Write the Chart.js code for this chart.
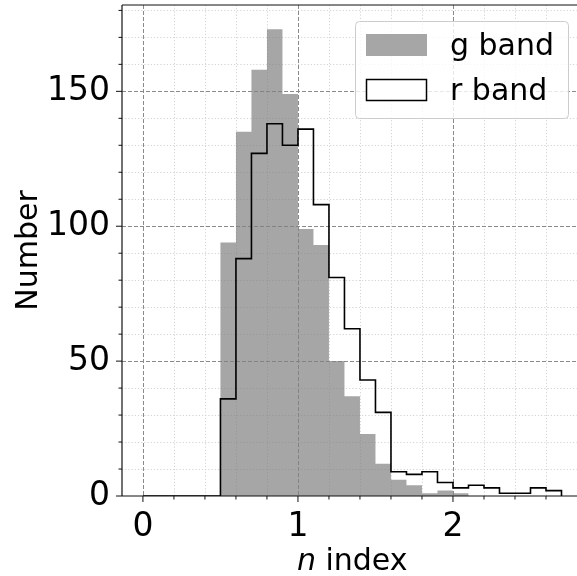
<!DOCTYPE html>
<html>
<head>
<meta charset="utf-8">
<script src="https://cdn.jsdelivr.net/npm/chart.js@4.4.1/dist/chart.umd.min.js"></script>
<style>
  html, body { margin: 0; padding: 0; background: #fff; }
  #wrap { width: 577px; height: 576px; }
</style>
</head>
<body>
<div id="wrap"><canvas id="chart" width="577" height="576"></canvas></div>
<script>
// histogram bins (n index), width 0.1
const binEdges = [0.0, 0.1, 0.2, 0.3, 0.4, 0.5, 0.6, 0.7, 0.8, 0.9, 1.0, 1.1, 1.2, 1.3,
  1.4, 1.5, 1.6, 1.7, 1.8, 1.9, 2.0, 2.1, 2.2, 2.3, 2.4, 2.5, 2.6, 2.7];
const gBand = [0, 0, 0, 0, 0, 94, 135, 158, 173, 149, 99, 93, 50, 37,
  23, 12, 6, 4, 1, 2, 1, 0, 0, 0, 0, 0, 0];
const rBand = [0, 0, 0, 0, 0, 36, 88, 127, 138, 130, 136, 108, 81, 62,
  43, 31, 9, 8, 9, 5, 3, 4, 3, 1, 1, 3, 2];

const xTicks = [0, 1, 2];
const yTicks = [0, 50, 100, 150];
const xMinor = [0.2, 0.4, 0.6, 0.8, 1.2, 1.4, 1.6, 1.8, 2.2, 2.4, 2.6];
const yMinor = [10, 20, 30, 40, 60, 70, 80, 90, 110, 120, 130, 140, 160, 170, 180];

const FONT = "'DejaVu Sans', sans-serif";
const GRAY = 'rgba(128,128,128,0.7)';

// one point per bin start plus a closing point, drawn as steps
function stepPoints(counts) {
  const pts = counts.map((c, i) => ({ x: binEdges[i], y: c }));
  pts.push({ x: binEdges[binEdges.length - 1], y: 0 });
  return pts;
}

function seg(ctx, x1, y1, x2, y2) {
  ctx.beginPath();
  ctx.moveTo(x1, y1);
  ctx.lineTo(x2, y2);
  ctx.stroke();
}

// matplotlib-like grid: dotted minor, dashed major
const gridPlugin = {
  id: 'mplGrid',
  beforeDatasetsDraw(chart) {
    const { ctx, chartArea: a, scales: { x, y } } = chart;
    ctx.save();
    ctx.lineWidth = 1;
    ctx.strokeStyle = '#d4d4d4';
    ctx.setLineDash([1.2, 2]);
    xMinor.forEach(v => {
      const px = Math.round(x.getPixelForValue(v)) + 0.5;
      seg(ctx, px, a.top, px, a.bottom);
    });
    yMinor.forEach(v => {
      const py = Math.round(y.getPixelForValue(v)) + 0.5;
      seg(ctx, a.left, py, a.right, py);
    });
    ctx.strokeStyle = '#8a8a8a';
    ctx.setLineDash([4, 2]);
    xTicks.forEach(v => {
      const px = Math.round(x.getPixelForValue(v)) + 0.5;
      seg(ctx, px, a.top, px, a.bottom);
    });
    yTicks.forEach(v => {
      if (v === 0) return;
      const py = Math.round(y.getPixelForValue(v)) + 0.5;
      seg(ctx, a.left, py, a.right, py);
    });
    ctx.restore();
  },
  afterDraw(chart) {
    const { ctx, chartArea: a, scales: { x, y } } = chart;
    ctx.save();
    // spines
    ctx.strokeStyle = '#111';
    ctx.lineWidth = 1.2;
    seg(ctx, a.left, a.top, a.left, a.bottom);
    seg(ctx, a.left, a.bottom, a.right, a.bottom);
    seg(ctx, a.left, a.top, a.right, a.top);
    // tick marks
    ctx.lineWidth = 1;
    xTicks.forEach(v => { const px = x.getPixelForValue(v); seg(ctx, px, a.bottom, px, a.bottom + 6); });
    xMinor.forEach(v => { const px = x.getPixelForValue(v); seg(ctx, px, a.bottom, px, a.bottom + 3.5); });
    yTicks.forEach(v => { const py = y.getPixelForValue(v); seg(ctx, a.left - 6, py, a.left, py); });
    yMinor.forEach(v => { const py = y.getPixelForValue(v); seg(ctx, a.left - 3.5, py, a.left, py); });

    // axis titles
    ctx.fillStyle = '#000';
    ctx.textBaseline = 'alphabetic';
    ctx.font = '30px ' + FONT;
    const idx = ' index';
    const wIdx = ctx.measureText(idx).width;
    ctx.font = 'italic 30px ' + FONT;
    const wN = ctx.measureText('n').width;
    const cx = (a.left + x.getPixelForValue(2.835)) / 2;
    let tx = cx - (wN + wIdx) / 2;
    ctx.textAlign = 'left';
    ctx.fillText('n', tx, 570);
    ctx.font = '30px ' + FONT;
    ctx.fillText(idx, tx + wN, 570);

    ctx.save();
    ctx.translate(37, (a.top + a.bottom) / 2);
    ctx.rotate(-Math.PI / 2);
    ctx.textAlign = 'center';
    ctx.fillText('Number', 0, 0);
    ctx.restore();

    // legend box
    const lx = 355, ly = 21, lw = 213, lh = 97;
    ctx.fillStyle = 'rgba(255,255,255,0.8)';
    ctx.strokeStyle = '#cccccc';
    ctx.lineWidth = 1;
    ctx.beginPath();
    ctx.roundRect(lx + 0.5, ly + 0.5, lw, lh, 4);
    ctx.fill();
    ctx.stroke();
    ctx.fillStyle = '#a6a6a6';
    ctx.fillRect(366, 34, 61, 22);
    ctx.fillStyle = '#fff';
    ctx.fillRect(366, 79, 61, 22);
    ctx.strokeStyle = '#000';
    ctx.lineWidth = 1.5;
    ctx.strokeRect(366.5, 79.5, 60, 21);
    ctx.fillStyle = '#000';
    ctx.font = '30px ' + FONT;
    ctx.textAlign = 'left';
    ctx.fillText('g band', 450, 55);
    ctx.fillText('r band', 450, 100);
    ctx.restore();
  }
};

new Chart(document.getElementById('chart'), {
  type: 'line',
  data: {
    datasets: [
      {
        label: 'r band',
        data: stepPoints(rBand),
        stepped: 'before',
        borderColor: '#000',
        borderWidth: 1.6,
        pointRadius: 0,
        fill: false,
        order: 0,
      },
      {
        label: 'g band',
        data: stepPoints(gBand),
        stepped: 'before',
        borderWidth: 0,
        borderColor: 'rgba(0,0,0,0)',
        backgroundColor: GRAY,
        pointRadius: 0,
        fill: 'origin',
        order: 1,
      },
    ],
  },
  options: {
    responsive: false,
    devicePixelRatio: 1,
    animation: false,
    layout: { padding: { top: 5, right: 0, left: 0, bottom: 0 } },
    plugins: {
      legend: { display: false },
      tooltip: { enabled: false },
    },
    scales: {
      x: {
        type: 'linear',
        min: -0.135,
        max: 2.8,
        grid: { display: false, drawTicks: false },
        border: { display: false },
        afterBuildTicks: s => { s.ticks = xTicks.map(v => ({ value: v })); },
        afterFit: s => { s.height = 80; s.paddingLeft = 0; s.paddingRight = 0; },
        ticks: {
          color: '#000',
          font: { family: FONT, size: 33 },
          padding: 12,
          maxRotation: 0,
          callback: v => String(v),
        },
      },
      y: {
        min: 0,
        max: 182,
        grid: { display: false, drawTicks: false },
        border: { display: false },
        afterBuildTicks: s => { s.ticks = yTicks.map(v => ({ value: v })); },
        afterFit: s => { s.width = 122; s.paddingTop = 0; s.paddingBottom = 0; },
        ticks: {
          color: '#000',
          font: { family: FONT, size: 33 },
          padding: 12,
          callback: v => String(v),
        },
      },
    },
  },
  plugins: [gridPlugin],
});
</script>
</body>
</html>
